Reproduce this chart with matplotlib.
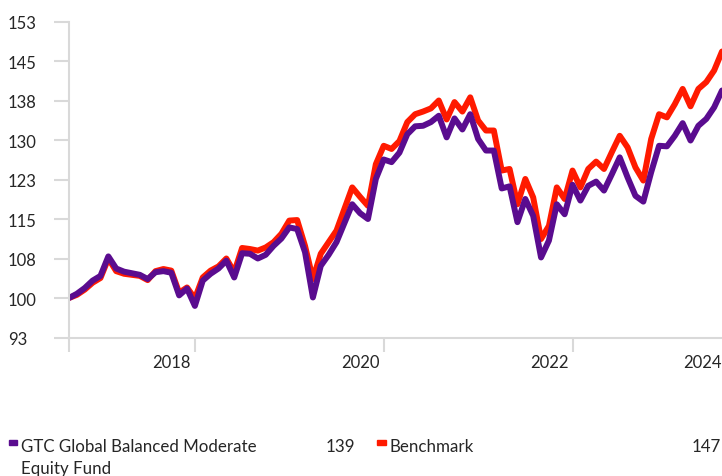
import numpy as np
import matplotlib
matplotlib.use("Agg")
import matplotlib.pyplot as plt
from matplotlib.patches import Rectangle

plt.rcParams['font.family'] = ['Lato', 'DejaVu Sans']

# monthly index values, rebased to 100
fund = [100.0, 100.8, 101.9, 103.3, 104.2, 107.9, 105.6, 105.0, 104.7, 104.4,
        103.6, 104.9, 105.1, 104.8, 100.5, 101.8, 98.5, 103.3, 104.6, 105.6,
        107.1, 103.9, 108.5, 108.4, 107.5, 108.2, 109.9, 111.3, 113.4, 113.1,
        108.7, 100.1, 106.1, 108.2, 110.6, 114.2, 117.8, 116.1, 115.0, 122.6,
        126.3, 125.8, 127.6, 131.1, 132.6, 132.7, 133.4, 134.6, 130.5, 134.1,
        132.0, 134.9, 130.2, 128.0, 128.0, 120.8, 121.2, 114.4, 118.8, 115.6,
        107.7, 110.9, 117.8, 115.9, 121.5, 118.5, 121.3, 122.1, 120.4, 123.5,
        126.7, 122.9, 119.4, 118.3, 123.9, 128.9, 128.8, 130.8, 133.2, 129.9,
        132.7, 134.0, 136.2, 139.4]
bench = [100.0, 100.6, 101.6, 102.9, 103.8, 107.5, 105.1, 104.6, 104.4, 104.2,
         103.4, 105.1, 105.5, 105.2, 101.0, 102.0, 99.9, 103.9, 105.2, 106.0,
         107.5, 104.9, 109.5, 109.3, 109.0, 109.6, 110.6, 112.2, 114.7, 114.8,
         109.9, 103.6, 108.4, 110.6, 112.8, 116.9, 121.0, 119.2, 117.5, 125.4,
         128.9, 128.3, 129.8, 133.4, 134.9, 135.4, 136.0, 137.5, 133.9, 137.2,
         135.4, 138.1, 133.7, 131.8, 131.8, 124.2, 124.5, 117.8, 122.6, 119.1,
         111.2, 113.7, 121.0, 118.8, 124.2, 121.0, 124.5, 125.9, 124.5, 127.7,
         130.8, 128.6, 124.8, 122.3, 130.2, 134.9, 134.3, 136.8, 139.7, 136.4,
         139.7, 141.0, 143.2, 146.8]

yticks = [92.5, 100, 107.5, 115, 122.5, 130, 137.5, 145, 152.5]
ylabels = ["93", "100", "108", "115", "123", "130", "138", "145", "153"]
year_ticks = [0, 16, 40, 64]
year_pos = [15.5, 39.5, 63.5, 83]
year_labels = ["2018", "2020", "2022", "2024"]

fund_name = "GTC Global Balanced Moderate\nEquity Fund"
bench_name = "Benchmark"
fund_last = "139"
bench_last = "147"

purple = "#5a0c8f"
red = "#ff1a00"
grey = "#d9d9d9"
txt = "#262626"

x = np.arange(len(fund))

fig = plt.figure(figsize=(7.22, 4.77), dpi=100)
ax = fig.add_axes([69 / 722, 1 - 338.5 / 477, 1 - 69 / 722, (338.5 - 22.5) / 477])

ax.plot(x, bench, color=red, lw=4.3, solid_joinstyle="round", solid_capstyle="round")
ax.plot(x, fund, color=purple, lw=4.3, solid_joinstyle="round", solid_capstyle="round")

ax.set_xlim(0, len(fund) - 1)
ax.set_ylim(92.5, 152.5)

for s in ["top", "right"]:
    ax.spines[s].set_visible(False)
for s in ["left", "bottom"]:
    ax.spines[s].set_color(grey)
    ax.spines[s].set_linewidth(1.5)

ax.set_yticks(yticks)
ax.set_yticklabels(ylabels, ha="left")
ax.tick_params(axis="y", length=11, width=1.5, color=grey, pad=33,
               labelsize=12, labelcolor=txt)

ax.set_xticks(year_ticks)
ax.set_xticklabels([])
ax.tick_params(axis="x", which="major", length=10, width=1.5, color=grey)
ax.set_xticks(year_pos, minor=True)
ax.set_xticklabels(year_labels, minor=True, ha="right")
ax.tick_params(axis="x", which="minor", length=0, pad=12, labelsize=12, labelcolor=txt)

# legend
fig.add_artist(Rectangle((9 / 722, 1 - 446 / 477), 8 / 722, 5 / 477,
                         transform=fig.transFigure, color=purple))
fig.text(21 / 722, 1 - 439 / 477, fund_name, ha="left", va="top",
         fontsize=12.2, color=txt, linespacing=1.45)
fig.text(355 / 722, 1 - 439 / 477, fund_last, ha="right", va="top", fontsize=12.2, color=txt)
fig.add_artist(Rectangle((377 / 722, 1 - 446 / 477), 9 / 722, 5 / 477,
                         transform=fig.transFigure, color=red))
fig.text(390 / 722, 1 - 439 / 477, bench_name, ha="left", va="top", fontsize=12.2, color=txt)
fig.text(721 / 722, 1 - 439 / 477, bench_last, ha="right", va="top", fontsize=12.2, color=txt)

fig.savefig("out.png", dpi=100, facecolor="white")
